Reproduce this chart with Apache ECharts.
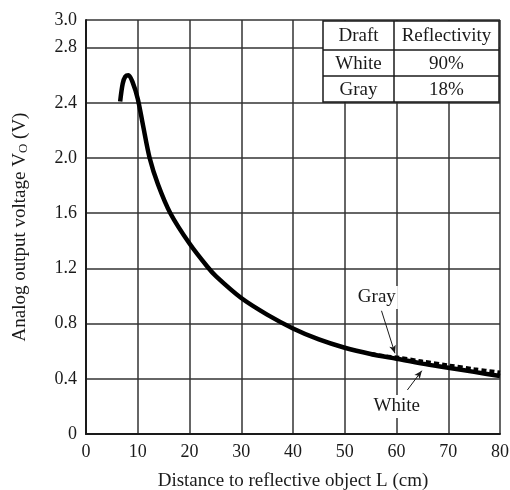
<!DOCTYPE html>
<html>
<head>
<meta charset="utf-8">
<title>Analog output voltage vs distance</title>
<script src="https://cdn.jsdelivr.net/npm/echarts@6/dist/echarts.min.js"></script>
<style>
  html, body { margin: 0; padding: 0; background: #fff; }
  #main { width: 510px; height: 490px; }
</style>
</head>
<body>
<div id="main"></div>
<script>
  // White draft (solid) - distance in cm, output in V
  const whiteX = [6.6, 7.1, 7.6, 8.2, 9.0, 10.0, 11.0, 12.3, 13.9, 16.3, 20, 23.5, 25.2, 30, 35, 40, 45, 50, 55, 60, 65, 70, 75, 80]
  const whiteY = [2.41, 2.54, 2.59, 2.60, 2.55, 2.43, 2.24, 2.0, 1.81, 1.60, 1.38, 1.21, 1.14, 0.985, 0.865, 0.765, 0.685, 0.625, 0.58, 0.545, 0.51, 0.48, 0.45, 0.42]
  // Gray draft (dashed) - splits from the white curve near 58 cm
  const grayX = [55, 58, 60, 65, 70, 75, 80]
  const grayY = [0.58, 0.562, 0.555, 0.525, 0.497, 0.47, 0.445]

  const xTicks = [0, 10, 20, 30, 40, 50, 60, 70, 80]
  const yTicks = [0, 0.4, 0.8, 1.2, 1.6, 2.0, 2.4, 2.8, 3.0]

  // legend table
  const tableHead = ['Draft', 'Reflectivity']
  const tableRows = [['White', '90%'], ['Gray', '18%']]

  // callouts (data coords)
  const grayLabelAt = [56.2, 0.99]
  const grayArrow = [[57.1, 0.893], [59.7, 0.585]]
  const whiteLabelAt = [60.05, 0.2]
  const whiteArrow = [[62.1, 0.319], [64.9, 0.459]]

  const serif = 'Liberation Serif'
  const ink = '#1a1a1a'

  function zip (xs, ys) {
    return xs.map((x, i) => [x, ys[i]])
  }

  // table drawn as graphic elements, on top of the grid lines
  function buildTable () {
    const left = 323
    const top = 21
    const colW = [71, 105]
    const rowH = [29, 26, 26]
    const rows = [tableHead].concat(tableRows)
    const width = colW[0] + colW[1]
    const height = rowH[0] + rowH[1] + rowH[2]
    const els = [{
      type: 'rect',
      z: 100,
      shape: { x: left, y: top, width: width, height: height },
      style: { fill: '#fff', stroke: ink, lineWidth: 1.5 }
    }, {
      type: 'line',
      z: 101,
      shape: { x1: left + colW[0], y1: top, x2: left + colW[0], y2: top + height },
      style: { stroke: ink, lineWidth: 1.5 }
    }]
    let y = top
    rows.forEach((row, r) => {
      if (r > 0) {
        els.push({
          type: 'line',
          z: 101,
          shape: { x1: left, y1: y, x2: left + width, y2: y },
          style: { stroke: ink, lineWidth: 1.5 }
        })
      }
      let x = left
      row.forEach((cell, c) => {
        els.push({
          type: 'text',
          z: 102,
          x: x + colW[c] / 2,
          y: y + rowH[r] / 2 + 1,
          style: {
            text: cell,
            fontFamily: serif,
            fontSize: 19,
            fill: ink,
            align: 'center',
            verticalAlign: 'middle'
          }
        })
        x += colW[c]
      })
      y += rowH[r]
    })
    return els
  }

  const chart = echarts.init(document.getElementById('main'))
  chart.setOption({
    animation: false,
    backgroundColor: '#fff',
    grid: { left: 86, right: 10, top: 20, bottom: 56, containLabel: false, outerBoundsMode: 'none' },
    xAxis: {
      type: 'value',
      min: xTicks[0],
      max: xTicks[xTicks.length - 1],
      interval: 10,
      name: 'Distance to reflective object L (cm)',
      nameLocation: 'middle',
      nameGap: 38,
      nameTextStyle: { fontFamily: serif, fontSize: 19, color: ink },
      axisLine: { show: true, lineStyle: { color: ink, width: 2 } },
      axisTick: { show: false },
      axisLabel: { fontFamily: serif, fontSize: 18, color: ink, margin: 9 },
      splitLine: { show: true, lineStyle: { color: '#333', width: 1.5 } }
    },
    yAxis: {
      type: 'value',
      min: yTicks[0],
      max: yTicks[yTicks.length - 1],
      interval: 0.4,
      name: 'Analog output voltage V{sub|O} (V)',
      nameLocation: 'middle',
      nameGap: 56,
      nameTextStyle: {
        fontFamily: serif,
        fontSize: 19,
        color: ink,
        rich: {
          sub: { fontFamily: serif, fontSize: 13, color: ink, verticalAlign: 'bottom' }
        }
      },
      axisLine: { show: true, lineStyle: { color: ink, width: 2 } },
      axisTick: { show: false },
      axisLabel: {
        fontFamily: serif,
        fontSize: 18,
        color: ink,
        margin: 9,
        formatter: v => (v === 0 ? '0' : v.toFixed(1))
      },
      splitLine: { show: true, lineStyle: { color: '#333', width: 1.5 } }
    },
    series: [
      {
        name: 'White',
        type: 'line',
        data: zip(whiteX, whiteY),
        smooth: 0.3,
        showSymbol: false,
        lineStyle: { color: '#000', width: 4.5 },
        z: 3,
        markPoint: {
          symbolSize: 0,
          label: {
            show: true,
            position: 'inside',
            fontFamily: serif,
            fontSize: 19,
            color: ink,
            backgroundColor: '#fff',
            padding: [2, 2]
          },
          data: [
            { coord: whiteLabelAt, value: 'White', label: { formatter: 'White' } },
            { coord: grayLabelAt, value: 'Gray', label: { formatter: 'Gray' } }
          ]
        },
        markLine: {
          silent: true,
          symbol: ['none', 'arrow'],
          symbolSize: [5, 8],
          label: { show: false },
          lineStyle: { color: ink, width: 1, type: 'solid' },
          data: [
            [{ coord: grayArrow[0] }, { coord: grayArrow[1] }],
            [{ coord: whiteArrow[0] }, { coord: whiteArrow[1] }]
          ]
        }
      },
      {
        name: 'Gray',
        type: 'line',
        data: zip(grayX, grayY),
        smooth: 0.3,
        showSymbol: false,
        lineStyle: { color: '#000', width: 4, type: [5, 3] },
        z: 4
      }
    ],
    graphic: buildTable()
  })
</script>
</body>
</html>
